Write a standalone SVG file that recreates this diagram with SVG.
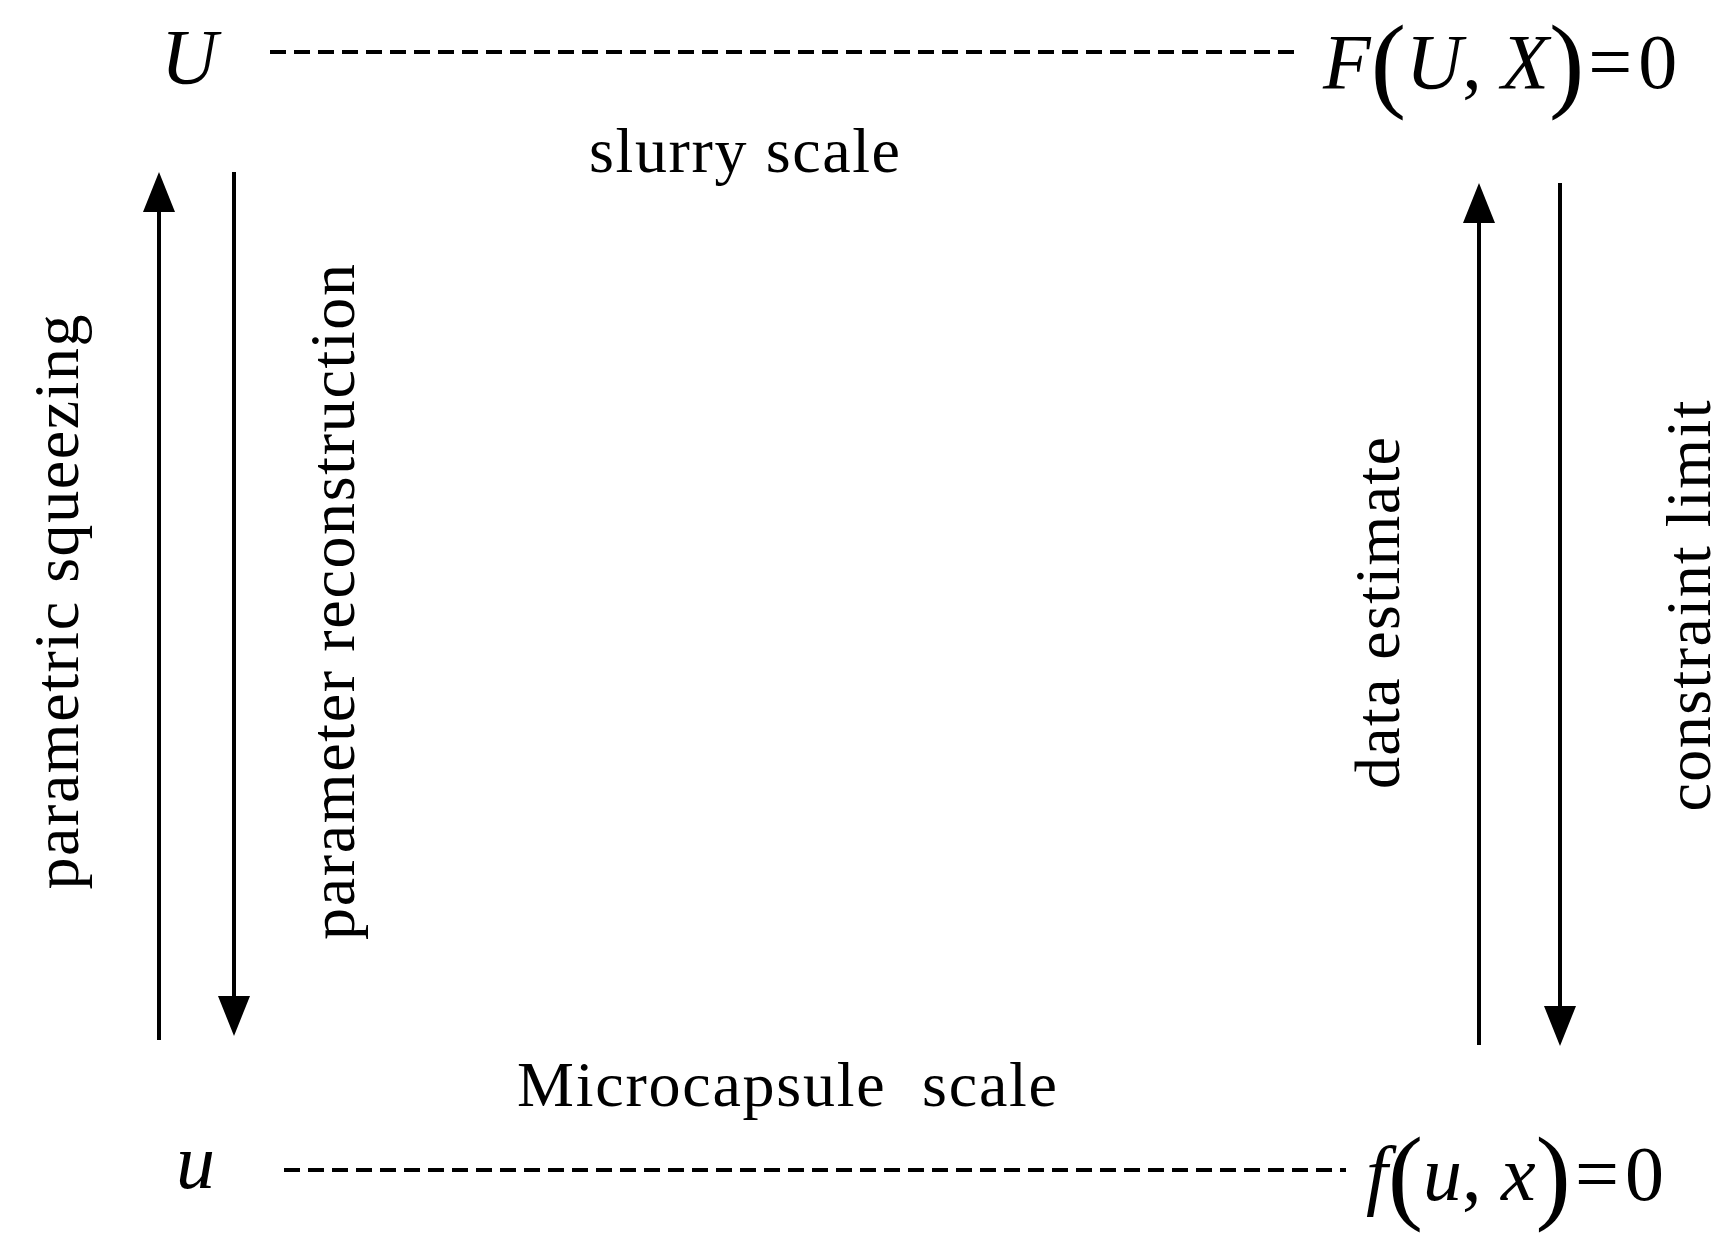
<svg xmlns="http://www.w3.org/2000/svg" width="1733" height="1244" viewBox="0 0 1733 1244">
<defs>
<style>
text{font-family:"Liberation Serif","Times New Roman",serif;fill:#000}
.lbl{font-size:64px}
.m{font-size:78px;font-style:italic}
.p{font-size:106px;font-style:normal}
.n{font-style:normal}
.dash{stroke:#000;stroke-width:4;stroke-dasharray:16,8;fill:none}
</style>
</defs>
<rect width="1733" height="1244" fill="#fff"/>
<g id="connectors">
<line class="dash" x1="270" y1="52" x2="1301" y2="52"/>
<line class="dash" x1="284" y1="1170" x2="1346" y2="1170"/>
<line x1="159" y1="1040" x2="159" y2="210" stroke="#000" stroke-width="4"/>
<polygon points="159,172 143,212 175,212"/>
<line x1="234" y1="172" x2="234" y2="1000" stroke="#000" stroke-width="4"/>
<polygon points="234,1036 218,996 250,996"/>
<line x1="1479" y1="1045" x2="1479" y2="220" stroke="#000" stroke-width="4"/>
<polygon points="1479,183 1463,223 1495,223"/>
<line x1="1560" y1="183" x2="1560" y2="1008" stroke="#000" stroke-width="4"/>
<polygon points="1560,1046 1544,1006 1576,1006"/>
</g>
<g id="U"><text class="m" x="161" y="83">U</text></g>
<g id="FUX"><text class="m" x="1323" y="88">F<tspan class="p" dy="10">(</tspan><tspan dy="-10">U</tspan><tspan class="n">, </tspan><tspan>X</tspan><tspan class="p" dy="10">)</tspan><tspan class="n" dy="-10" dx="4">=</tspan><tspan class="n" dx="6">0</tspan></text></g>
<g id="u"><text class="m" x="176" y="1188">u</text></g>
<g id="fux"><text class="m" x="1366" y="1200">f<tspan class="p" dy="10">(</tspan><tspan dy="-10">u</tspan><tspan class="n">, </tspan><tspan>x</tspan><tspan class="p" dy="10">)</tspan><tspan class="n" dy="-10" dx="4">=</tspan><tspan class="n" dx="6">0</tspan></text></g>
<g id="slurry"><text class="lbl" x="589" y="172" textLength="311">slurry scale</text></g>
<g id="micro"><text class="lbl" x="517" y="1106" textLength="540" xml:space="preserve">Microcapsule  scale</text></g>
<g id="squeeze"><text class="lbl" text-anchor="middle" transform="translate(78,602) rotate(-90)" textLength="575">parametric squeezing</text></g>
<g id="recon"><text class="lbl" text-anchor="middle" transform="translate(354,602) rotate(-90)" textLength="676">parameter reconstruction</text></g>
<g id="estimate"><text class="lbl" text-anchor="middle" transform="translate(1399,613) rotate(-90)" textLength="352">data estimate</text></g>
<g id="limit"><text class="lbl" text-anchor="middle" transform="translate(1710,606) rotate(-90)" textLength="411">constraint limit</text></g>
</svg>
